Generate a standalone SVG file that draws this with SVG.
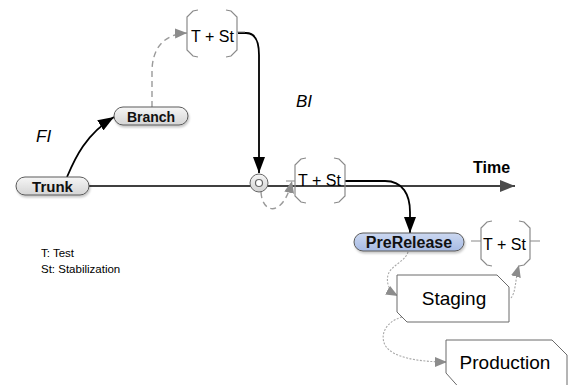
<svg xmlns="http://www.w3.org/2000/svg" width="571" height="385" viewBox="0 0 571 385">
  <defs>
    <linearGradient id="gGray" x1="0" y1="0" x2="0" y2="1">
      <stop offset="0" stop-color="#f6f6f6"/>
      <stop offset="1" stop-color="#d4d4d4"/>
    </linearGradient>
    <linearGradient id="gBlue" x1="0" y1="0" x2="0" y2="1">
      <stop offset="0" stop-color="#ccd8f0"/>
      <stop offset="1" stop-color="#a6bae4"/>
    </linearGradient>
    <filter id="shadow" x="-20%" y="-40%" width="140%" height="190%">
      <feDropShadow dx="1" dy="2" stdDeviation="1.2" flood-color="#000" flood-opacity="0.22"/>
    </filter>
    <marker id="ahBlack" markerUnits="userSpaceOnUse" markerWidth="16" markerHeight="12" refX="16" refY="6" orient="auto">
      <path d="M0,0 L16,6 L0,12 z" fill="#000"/>
    </marker>
    <marker id="ahTime" markerUnits="userSpaceOnUse" markerWidth="15" markerHeight="12" refX="15" refY="6" orient="auto">
      <path d="M0,0 L15,6 L0,12 z" fill="#4a4a4a"/>
    </marker>
    <marker id="ahGray" markerUnits="userSpaceOnUse" markerWidth="12" markerHeight="10" refX="12" refY="5" orient="auto">
      <path d="M0,0 L12,5 L0,10 z" fill="#8c8c8c"/>
    </marker>
  </defs>
  <style>
    .pill { stroke: #5a5a5a; stroke-width: 1; filter: url(#shadow); }
    .pillText { font-family: "Liberation Sans", Arial, sans-serif; font-weight: bold; fill: #111; text-anchor: middle; }
    .bracket { fill: none; stroke: #8a8a8a; stroke-width: 1.2; }
    .bText { font-family: "Liberation Sans", Arial, sans-serif; font-size: 16px; fill: #000; }
    .box { fill: #fff; stroke: #6a6a6a; stroke-width: 1; }
    .boxText { font-family: "Liberation Sans", Arial, sans-serif; font-size: 19px; fill: #000; text-anchor: middle; }
    .solid { fill: none; stroke: #000; stroke-width: 1.8; }
    .dashed { fill: none; stroke: #9a9a9a; stroke-width: 1.4; stroke-dasharray: 6 4; }
    .dotted { fill: none; stroke: #a8a8a8; stroke-width: 1.1; stroke-dasharray: 2 1.5; }
    .label { font-family: "Liberation Sans", Arial, sans-serif; font-style: italic; font-size: 17px; fill: #000; }
    .legend { font-family: "Liberation Sans", Arial, sans-serif; font-size: 11.5px; fill: #000; }
  </style>

  <!-- connectors -->
  <g id="connectors">
    <path d="M89,186 L515,186" fill="none" stroke="#404040" stroke-width="2" marker-end="url(#ahTime)"/>
    <path class="solid" d="M67,177 C75,158 86,134 114,117" marker-end="url(#ahBlack)"/>
    <path class="dashed" d="M152,107 L152,72 C152,48 164,34 187,33" marker-end="url(#ahGray)"/>
    <path class="solid" d="M238,33 L246,33 C255,33 259,40 259,55 L259,173" marker-end="url(#ahBlack)"/>
    <path class="dashed" d="M261,192 C262,214 283,218 292,181" marker-end="url(#ahGray)"/>
    <path class="solid" d="M345,181 L385,181 C403,181 410,195 410,212 L410,233" marker-end="url(#ahBlack)"/>
    <path class="dotted" d="M408,252 C405,262 391,265 388,275 C386,283 389,291 398,296" marker-end="url(#ahGray)"/>
    <path class="dotted" d="M511,298 C516,292 515,280 519,265" marker-end="url(#ahGray)"/>
    <path class="dotted" d="M402,317 C385,322 380,335 385,345 C392,358 420,362 447,362" marker-end="url(#ahGray)"/>
  </g>

  <!-- merge point on the trunk -->
  <g id="merge">
    <circle cx="259" cy="183" r="9" fill="url(#gGray)" stroke="#666" stroke-width="1"/>
    <circle cx="259" cy="183" r="3.5" fill="#fff" stroke="#666" stroke-width="1.2"/>
  </g>

  <g id="trunk">
    <rect class="pill" x="16" y="177" width="73" height="18" rx="9" fill="url(#gGray)"/>
    <text class="pillText" x="52.5" y="192" font-size="15">Trunk</text>
  </g>

  <g id="branch">
    <rect class="pill" x="114" y="107" width="74" height="18" rx="9" fill="url(#gGray)"/>
    <text class="pillText" x="151" y="122" font-size="14">Branch</text>
  </g>

  <g id="prerelease">
    <rect class="pill" x="354" y="233" width="110" height="18" rx="9" fill="url(#gBlue)" stroke="#55637f"/>
    <text class="pillText" x="409" y="247.5" font-size="16">PreRelease</text>
  </g>

  <!-- test + stabilization brackets -->
  <g id="ts-branch">
    <path class="bracket" d="M198,10 L193,11 L187,17 V50 L193,56 L198,57 M226,10 L231,11 L237,17 V50 L231,56 L226,57 M237,32 L245,32"/>
    <text class="bText" x="191" y="42">T + St</text>
  </g>

  <g id="ts-trunk">
    <path class="bracket" d="M306,158 L301,159 L295,165 V196 L301,202 L306,203 M334,158 L339,159 L345,165 V196 L339,202 L334,203 M286,181 L295,181"/>
    <text class="bText" x="298" y="186">T + St</text>
  </g>

  <g id="ts-prerelease">
    <path class="bracket" d="M492,221 L487,222 L481,228 V259 L487,265 L492,266 M519,221 L524,222 L530,228 V259 L524,265 L519,266 M471,241 L481,241 M530,241 L540,241"/>
    <text class="bText" x="483" y="250">T + St</text>
  </g>

  <g id="staging">
    <polygon class="box" points="397,275 497,275 509,287 509,322 407,322 397,312"/>
    <text class="boxText" x="454" y="305">Staging</text>
  </g>

  <g id="production">
    <polygon class="box" points="446,340 552,340 567,355 567,392 463,392 446,373"/>
    <text class="boxText" x="505" y="369">Production</text>
  </g>

  <!-- labels -->
  <text class="label" x="36" y="142">FI</text>
  <text class="label" x="296" y="107">BI</text>
  <text x="473" y="173" font-family="Liberation Sans, Arial, sans-serif" font-weight="bold" font-size="16" fill="#000">Time</text>
  <text class="legend" x="41" y="257">T: Test</text>
  <text class="legend" x="41" y="273">St: Stabilization</text>
</svg>
